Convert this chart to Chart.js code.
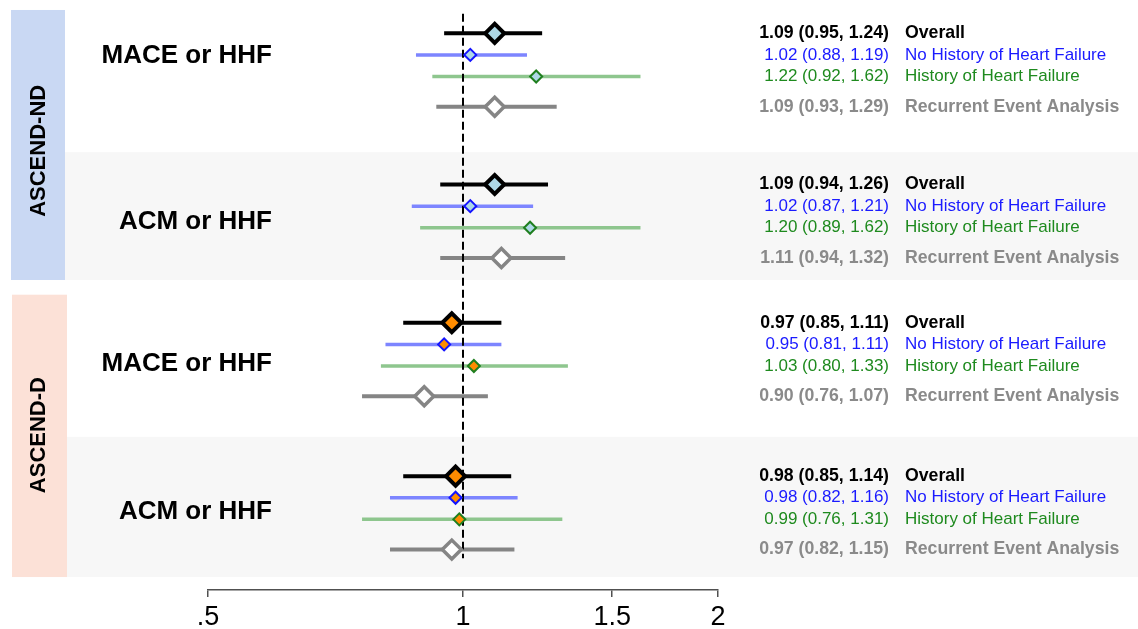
<!DOCTYPE html>
<html>
<head>
<meta charset="utf-8">
<script src="https://cdn.jsdelivr.net/npm/chart.js@4/dist/chart.umd.min.js"></script>
<style>
  html, body { margin: 0; padding: 0; background: #ffffff; }
  canvas { display: block; }
</style>
</head>
<body>
<canvas id="forest" width="1138" height="629"></canvas>
<script>
// ---- data -------------------------------------------------------------
const trials = ['ASCEND-ND', 'ASCEND-D'];
const outcomes = ['MACE or HHF', 'ACM or HHF', 'MACE or HHF', 'ACM or HHF'];
const panelTrial = [0, 0, 1, 1];
const subgroups = ['Overall', 'No History of Heart Failure', 'History of Heart Failure', 'Recurrent Event Analysis'];

// hazard ratios with 95% CI, one entry per panel (outcome x trial)
const overallHR = [1.09, 1.09, 0.97, 0.98];
const overallLo = [0.95, 0.94, 0.85, 0.85];
const overallHi = [1.24, 1.26, 1.11, 1.14];

const noHfHR = [1.02, 1.02, 0.95, 0.98];
const noHfLo = [0.88, 0.87, 0.81, 0.82];
const noHfHi = [1.19, 1.21, 1.11, 1.16];

const hfHR = [1.22, 1.20, 1.03, 0.99];
const hfLo = [0.92, 0.89, 0.80, 0.76];
const hfHi = [1.62, 1.62, 1.33, 1.31];

const recHR = [1.09, 1.11, 0.90, 0.97];
const recLo = [0.93, 0.94, 0.76, 0.82];
const recHi = [1.29, 1.32, 1.07, 1.15];

const tickValues = [0.5, 1, 1.5, 2];
const tickLabels = ['.5', '1', '1.5', '2'];

// ---- layout (vertical positions in row units) ---------------------------
const panelStart = [0, 7, 13.4, 20.5];
const rowOffset = [0, 1, 2, 3.4];
const outcomeLabelOffset = [1.04, 1.72, 1.88, 1.65];
const trialBand = [[-1.08, 11.42], [12.1, 25.17]];
const trialLabelCenter = [5.44, 18.6];
const shadedBand = [[5.5, 11.42], [18.68, 25.17]];
const refLineSpan = [-0.9, 24.3];
const Y_MIN = -1.542, Y_MAX = 25.77;

// ---- styles ----------------------------------------------------------------
const trialBandColor = ['#c9d8f3', '#fce1d7'];
const trialFill = ['#add8e6', '#ff8c00'];
const shadeColor = '#f7f7f7';
const FONT = '"Liberation Sans", Arial, Helvetica, sans-serif';

const groupStyle = [
  { line: '#000000', lineW: 4,   edge: '#000000', edgeW: 4,   r: 9.5, fill: null,      text: '#000000', bold: true },
  { line: '#7d85ff', lineW: 3.5, edge: '#1414ff', edgeW: 2,   r: 6,   fill: null,      text: '#1a1aff', bold: false },
  { line: '#8ec68e', lineW: 3.5, edge: '#1f7f1f', edgeW: 2,   r: 6,   fill: null,      text: '#1e8a1e', bold: false },
  { line: '#858585', lineW: 4,   edge: '#858585', edgeW: 3.5, r: 9.5, fill: '#ffffff', text: '#8a8a8a', bold: true }
];

const groupHR = [overallHR, noHfHR, hfHR, recHR];
const groupLo = [overallLo, noHfLo, hfLo, recLo];
const groupHi = [overallHi, noHfHi, hfHi, recHi];

const rowY = (p, s) => panelStart[p] + rowOffset[s];

// ---- datasets --------------------------------------------------------------
const datasets = [];

// confidence interval segments
groupHR.forEach((hrs, s) => {
  hrs.forEach((_, p) => {
    datasets.push({
      data: [{ x: groupLo[s][p], y: rowY(p, s) }, { x: groupHi[s][p], y: rowY(p, s) }],
      showLine: true,
      borderColor: groupStyle[s].line,
      borderWidth: groupStyle[s].lineW,
      pointRadius: 0,
      order: 3
    });
  });
});

// line of no effect at HR = 1
datasets.push({
  data: [{ x: 1, y: refLineSpan[0] }, { x: 1, y: refLineSpan[1] }],
  showLine: true,
  borderColor: '#000000',
  borderWidth: 2,
  borderDash: [8, 4],
  pointRadius: 0,
  order: 2
});

// point estimates as diamonds
groupHR.forEach((hrs, s) => {
  const st = groupStyle[s];
  datasets.push({
    data: hrs.map((v, p) => ({ x: v, y: rowY(p, s) })),
    showLine: false,
    pointStyle: 'rectRot',
    pointRadius: st.r,
    pointHoverRadius: st.r,
    pointBorderWidth: st.edgeW,
    pointBorderColor: st.edge,
    pointBackgroundColor: hrs.map((_, p) => st.fill || trialFill[panelTrial[p]]),
    order: 1
  });
});

// ---- background bands and side text ------------------------------------
const decorations = {
  id: 'decorations',
  beforeDraw(chart) {
    const ctx = chart.ctx;
    const y = chart.scales.y;
    ctx.save();
    shadedBand.forEach(([a, b], t) => {
      const top = y.getPixelForValue(a), bot = y.getPixelForValue(b);
      const left = t === 0 ? 65 : 67;
      ctx.fillStyle = shadeColor;
      ctx.fillRect(left, top, chart.width - left, bot - top);
    });
    trialBand.forEach(([a, b], t) => {
      const top = y.getPixelForValue(a), bot = y.getPixelForValue(b);
      const left = t === 0 ? 11 : 12;
      const right = t === 0 ? 65 : 67;
      ctx.fillStyle = trialBandColor[t];
      ctx.fillRect(left, top, right - left, bot - top);
    });
    ctx.restore();
  },
  afterDraw(chart) {
    const ctx = chart.ctx;
    const y = chart.scales.y;
    const area = chart.chartArea;
    ctx.save();

    // trial names, rotated
    trials.forEach((name, t) => {
      ctx.save();
      ctx.translate(38.5, y.getPixelForValue(trialLabelCenter[t]));
      ctx.rotate(-Math.PI / 2);
      ctx.font = 'bold 22px ' + FONT;
      ctx.fillStyle = '#000000';
      ctx.textAlign = 'center';
      ctx.textBaseline = 'middle';
      ctx.fillText(name, 0, 0);
      ctx.restore();
    });

    // outcome names
    outcomes.forEach((name, p) => {
      ctx.font = 'bold 26px ' + FONT;
      ctx.fillStyle = '#000000';
      ctx.textAlign = 'right';
      ctx.textBaseline = 'middle';
      ctx.fillText(name, 272, y.getPixelForValue(panelStart[p] + outcomeLabelOffset[p]));
    });

    // estimates and subgroup names
    const valueRight = area.right + 171;
    const nameLeft = area.right + 187;
    groupHR.forEach((hrs, s) => {
      const st = groupStyle[s];
      ctx.font = (st.bold ? 'bold 17.7px ' : '17px ') + FONT;
      ctx.fillStyle = st.text;
      ctx.textBaseline = 'middle';
      hrs.forEach((v, p) => {
        const py = y.getPixelForValue(rowY(p, s));
        const txt = v.toFixed(2) + ' (' + groupLo[s][p].toFixed(2) + ', ' + groupHi[s][p].toFixed(2) + ')';
        ctx.textAlign = 'right';
        ctx.fillText(txt, valueRight, py);
        ctx.textAlign = 'left';
        ctx.fillText(subgroups[s], nameLeft, py);
      });
    });
    ctx.restore();
  }
};

new Chart(document.getElementById('forest'), {
  type: 'scatter',
  data: { datasets },
  plugins: [decorations],
  options: {
    responsive: false,
    devicePixelRatio: 1,
    animation: false,
    events: [],
    layout: { autoPadding: false, padding: { left: 208, right: 420, top: 0, bottom: 0 } },
    plugins: {
      legend: { display: false },
      tooltip: { enabled: false }
    },
    scales: {
      x: {
        type: 'logarithmic',
        position: 'bottom',
        min: tickValues[0],
        max: tickValues[tickValues.length - 1],
        afterBuildTicks: (axis) => { axis.ticks = tickValues.map(v => ({ value: v })); },
        afterFit: (axis) => { axis.height = 39; },
        border: { display: true, color: '#505050', width: 1.5 },
        grid: { drawOnChartArea: false, drawTicks: true, tickLength: 7, color: '#505050', lineWidth: 1.5 },
        ticks: {
          autoSkip: false,
          maxRotation: 0,
          padding: 4,
          color: '#000000',
          font: { family: FONT, size: 27 },
          callback: (v) => {
            const i = tickValues.indexOf(v);
            return i >= 0 ? tickLabels[i] : '';
          }
        }
      },
      y: {
        type: 'linear',
        display: false,
        reverse: true,
        min: Y_MIN,
        max: Y_MAX
      }
    }
  }
});
</script>
</body>
</html>
